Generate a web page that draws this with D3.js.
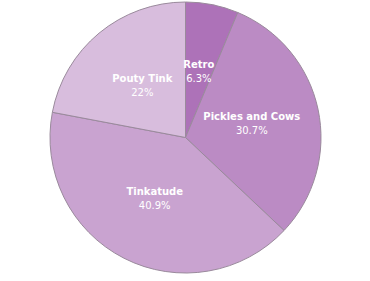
<!DOCTYPE html>
<html>
<head>
<meta charset="utf-8">
<script src="https://cdn.jsdelivr.net/npm/d3@7"></script>
<style>
  body { margin: 0; background: #fff; }
</style>
</head>
<body>
<div id="chart-area"></div>
<script>
// slice data
var names = ["Retro", "Pickles and Cows", "Tinkatude", "Pouty Tink"];
var values = [6.3, 30.7, 40.9, 22];
var labels = ["6.3%", "30.7%", "40.9%", "22%"];
var colors = ["#ad72b8", "#bb8bc4", "#c9a3d0", "#d8bddd"];

var width = 370, height = 281;
var radius = 135.5;

var svg = d3.select("#chart-area").append("svg")
    .attr("width", width)
    .attr("height", height);

var g = svg.append("g")
    .attr("transform", "translate(185.5,137.5)");

var pie = d3.pie().sort(null);
var arc = d3.arc().innerRadius(0).outerRadius(radius);

var arcs = pie(values);

g.selectAll("path")
    .data(arcs)
    .enter()
    .append("path")
        .attr("d", arc)
        .attr("fill", function(d, i) { return colors[i]; })
        .attr("stroke", "#9a8a9c")
        .attr("stroke-width", 1);

var text = g.selectAll("text")
    .data(arcs)
    .enter()
    .append("text")
        .attr("transform", function(d) { return "translate(" + arc.centroid(d) + ")"; })
        .attr("text-anchor", "middle")
        .attr("fill", "#fff")
        .style("font-family", "DejaVu Sans, Verdana, sans-serif")
        .style("font-weight", "bold")
        .style("font-size", "10px");

text.append("tspan")
    .attr("x", 0)
    .attr("y", -3)
    .text(function(d, i) { return names[i]; });

text.append("tspan")
    .attr("x", 0)
    .attr("y", 11)
    .style("font-weight", "normal")
    .text(function(d, i) { return labels[i]; });
</script>
</body>
</html>
